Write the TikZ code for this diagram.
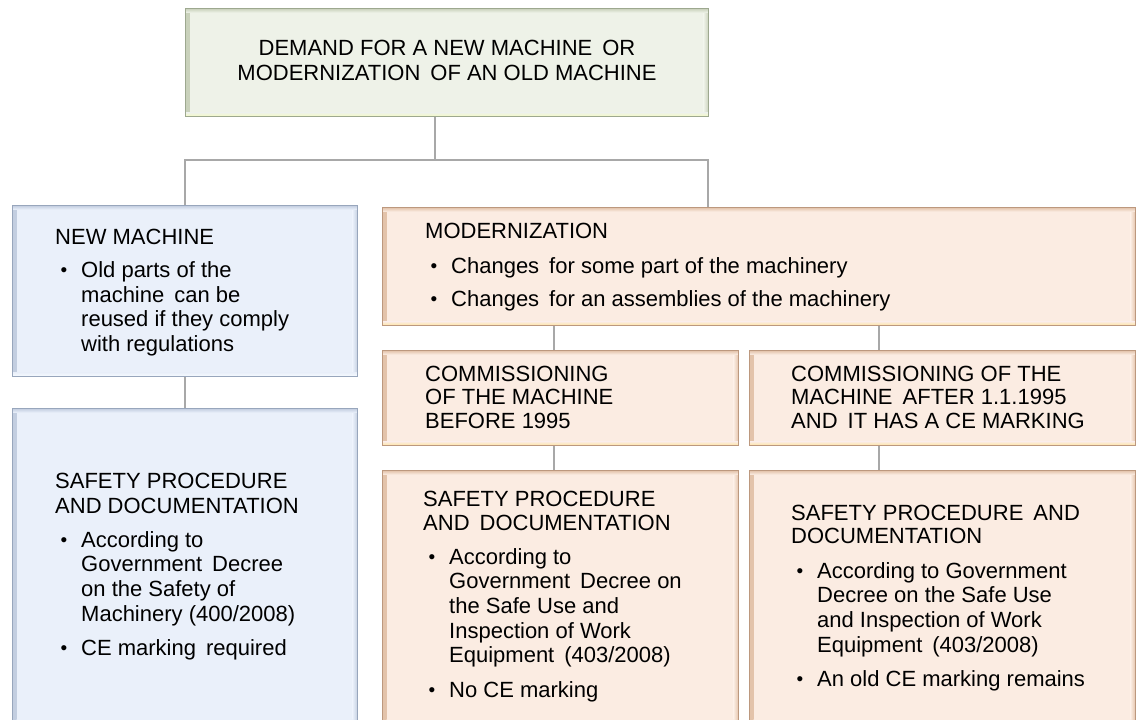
\documentclass[tikz,border=0pt]{standalone}
\usepackage{fontspec}
\setmainfont{Liberation Sans}
\begin{document}
% colour families for the bevelled boxes
\definecolor{gfill}{HTML}{EEF2E8}\definecolor{gbord}{HTML}{9DA88F}
\definecolor{gedge}{HTML}{C9D1BB}\definecolor{ghigh}{HTML}{F4FAC2}
\definecolor{bfill}{HTML}{EAF0FA}\definecolor{bbord}{HTML}{98A6BC}
\definecolor{bedge}{HTML}{C3CEE0}\definecolor{bhigh}{HTML}{F7FCFF}
\definecolor{ofill}{HTML}{FBECE2}\definecolor{obord}{HTML}{BC987E}
\definecolor{oedge}{HTML}{E3C3AA}\definecolor{ohigh}{HTML}{FFE3A0}
\definecolor{connc}{HTML}{A8A8A8}
% bullet and hanging indent of the lists
\newcommand\bl{\hspace*{5.5pt}\makebox[20.5pt][l]{\raisebox{1.2pt}{\fontsize{19}{19}\selectfont •}}}
\newcommand\ind{\hspace*{26pt}}
\newcommand\dsp{\hspace{10pt}}
\begin{tikzpicture}[x=1pt,y=-1pt,
  bevel/.style n args={4}{rectangle, anchor=north west, inner sep=0pt,
    line width=1.2pt, fill=#1, draw=#2,
    path picture={
      \shade[left color=#3, right color=#1]
        (path picture bounding box.north west) rectangle ([xshift=4pt]path picture bounding box.south west);
      \shade[left color=#1, right color=#3]
        ([xshift=-5pt]path picture bounding box.north east) rectangle (path picture bounding box.south east);
      \shade[top color=#3, bottom color=#1]
        (path picture bounding box.north west) rectangle ([yshift=-4pt]path picture bounding box.north east);
      \shade[top color=#1, bottom color=#4]
        ([yshift=4pt]path picture bounding box.south west) rectangle (path picture bounding box.south east);
    }},
  greenbox/.style={bevel={gfill}{gbord}{gedge}{ghigh}},
  bluebox/.style={bevel={bfill}{bbord}{bedge}{bhigh}},
  orangebox/.style={bevel={ofill}{obord}{oedge}{ohigh}},
  txt/.style={anchor=base west, inner sep=0pt,
    font=\fontsize{22}{24.6}\selectfont},
  conn/.style={draw=connc, line width=1.3pt}]
\useasboundingbox (0,0) rectangle (1136,720);

% boxes
\node[greenbox, minimum width=523, minimum height=108] (top) at (185,8) {};
\node[bluebox, minimum width=345, minimum height=171] (newm) at (12,205) {};
\node[bluebox, minimum width=345, minimum height=320] (newsafe) at (12,408) {};
\node[orangebox, minimum width=753, minimum height=118] (mod) at (382,207) {};
\node[orangebox, minimum width=356, minimum height=95] (comma) at (382,350) {};
\node[orangebox, minimum width=386, minimum height=95] (commb) at (749,350) {};
\node[orangebox, minimum width=356, minimum height=260] (safea) at (382,470) {};
\node[orangebox, minimum width=386, minimum height=260] (safeb) at (749,470) {};

% connectors
\coordinate (hub) at (435,160);
\coordinate (modin) at (708,207);
\coordinate (ja) at (554,0);
\coordinate (jb) at (879,0);
\draw[conn] (top.south -| hub) -- (hub);
\draw[conn] (newm.north) |- (hub) -| (modin);
\draw[conn] (newm.south) -- (newsafe.north);
\draw[conn] (mod.south -| ja) -- (comma.north -| ja);
\draw[conn] (mod.south -| jb) -- (commb.north -| jb);
\draw[conn] (comma.south -| ja) -- (safea.north -| ja);
\draw[conn] (commb.south -| jb) -- (safeb.north -| jb);

% texts
\node[txt, anchor=base] (ttop) at (447,55) {\begin{tabular}[t]{@{}c@{}}
DEMAND FOR A NEW MACHINE\dsp OR\\[1pt]
MODERNIZATION\dsp OF AN OLD MACHINE\end{tabular}};

\node[txt] (tnewm) at (55,244) {\begin{tabular}[t]{@{}l@{}}
NEW MACHINE\\[9pt]
\bl Old parts of the\\
\ind machine\dsp can be\\
\ind reused if they comply\\
\ind with regulations\end{tabular}};

\node[txt] (tnewsafe) at (55,488) {\begin{tabular}[t]{@{}l@{}}
SAFETY PROCEDURE\\[1pt]
AND DOCUMENTATION\\[9pt]
\bl According to\\
\ind Government\dsp Decree\\
\ind on the Safety of\\
\ind Machinery (400/2008)\\[10pt]
\bl CE marking\dsp required\end{tabular}};

\node[txt] (tmod) at (425,238) {\begin{tabular}[t]{@{}l@{}}
MODERNIZATION\\[11pt]
\bl Changes\dsp for some part of the machinery\\[8pt]
\bl Changes\dsp for an assemblies of the machinery\end{tabular}};

\node[txt] (tcomma) at (425,381) {\begin{tabular}[t]{@{}l@{}}
COMMISSIONING\\[-1pt]
OF THE MACHINE\\[-1pt]
BEFORE 1995\end{tabular}};

\node[txt] (tcommb) at (791,381) {\begin{tabular}[t]{@{}l@{}}
COMMISSIONING OF THE\\[-1pt]
MACHINE\dsp AFTER 1.1.1995\\[-1pt]
AND\dsp IT HAS A CE MARKING\end{tabular}};

\node[txt] (tsafea) at (423,506) {\begin{tabular}[t]{@{}l@{}}
SAFETY PROCEDURE\\
AND\dsp DOCUMENTATION\\[9pt]
\bl According to\\
\ind Government\dsp Decree on\\
\ind the Safe Use and\\
\ind Inspection of Work\\
\ind Equipment\dsp (403/2008)\\[10pt]
\bl No CE marking\end{tabular}};

\node[txt] (tsafeb) at (791,520) {\begin{tabular}[t]{@{}l@{}}
SAFETY PROCEDURE\dsp AND\\[-1pt]
DOCUMENTATION\\[10pt]
\bl According to Government\\
\ind Decree on the Safe Use\\
\ind and Inspection of Work\\
\ind Equipment\dsp (403/2008)\\[10pt]
\bl An old CE marking remains\end{tabular}};
\end{tikzpicture}
\end{document}
